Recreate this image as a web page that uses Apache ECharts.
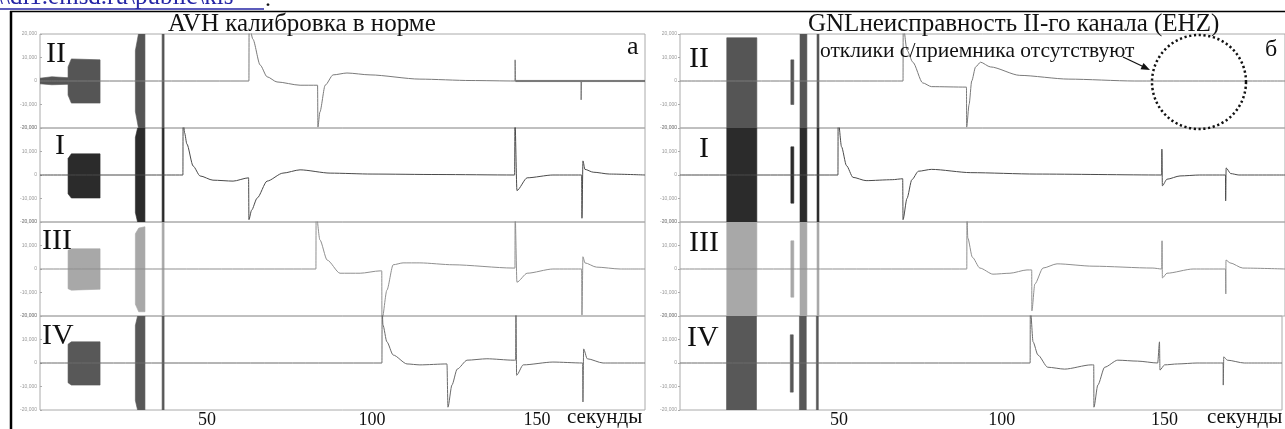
<!DOCTYPE html>
<html>
<head>
<meta charset="utf-8">
<script src="https://cdn.jsdelivr.net/npm/echarts@6/dist/echarts.min.js"></script>
<style>
html,body{margin:0;padding:0;background:#fff}
#main{width:1285px;height:429px}
</style>
</head>
<body>
<div id="main"></div>
<script>
/* ---- data: seconds / relative amplitude (1 = half a trace row) ---- */
var rowNames = ['II', 'I', 'III', 'IV'];
var timeTicks = [50, 100, 150];
var ampTicks = [-1, -0.5, 0, 0.5, 1];

/* панель а: AVH */
var traceA_II = [[-0.6,0],[8,0],[62.7,0],[62.75,1.2],[63.9,0.89],[66.1,0.34],[68.2,0.09],[71.2,-0.02],[78.2,-0.09],[83.5,-0.09],[83.6,-0.98],[84.2,-0.66],[85.8,-0.09],[88.2,0.13],[92.4,0.17],[99.4,0.13],[114.5,0.04],[130,0.01],[143.3,0],[143.35,0.45],[143.5,0],[163.3,0],[163.35,-0.4],[163.5,0],[182.7,0]];
var traceA_I = [[-0.6,0],[42.7,0],[42.75,1.2],[43.2,0.9],[43.9,0.66],[45.8,0.19],[47.9,-0.02],[51.8,-0.11],[57.9,-0.13],[62.6,-0.06],[62.7,-0.95],[63.5,-0.75],[65.2,-0.49],[68.2,-0.13],[73,0.04],[78.2,0.11],[87.3,0.04],[100,0.02],[120,0.01],[143.2,0],[143.3,1.2],[143.9,-0.33],[147,-0.06],[154.8,0],[163.5,0],[163.6,-0.92],[163.9,0.3],[164.5,0.12],[167,0.06],[172,0.02],[182.7,0]];
var traceA_III = [[-0.6,0],[83,0],[83.05,1.2],[84.2,0.62],[86.4,0.19],[90.3,-0.09],[96.4,-0.09],[102.4,-0.04],[102.95,-0.04],[103,-1.1],[104.5,-0.45],[106.4,0.09],[109.4,0.13],[114.5,0.13],[124.5,0.09],[142.7,0.02],[143.3,0.02],[143.35,1.2],[143.9,-0.28],[147,-0.09],[154.8,0],[163.5,0],[163.6,-0.98],[163.9,0.26],[164.5,0.13],[168,0.04],[175.2,0],[182.7,0]];
var traceA_IV = [[-0.6,0],[103,0],[103.05,1.2],[103.3,0.81],[104.5,0.45],[106.4,0.17],[110.6,-0.02],[114.5,-0.04],[122.7,-0.02],[123,-0.94],[124.2,-0.47],[125.8,-0.13],[128.8,0.06],[134.8,0.09],[142.7,0.06],[143.5,0.06],[143.6,1.2],[143.8,-0.26],[145.8,-0.04],[154.8,0.02],[163.8,0],[163.9,-0.83],[164.1,0.3],[165.2,0.09],[170,0],[182.7,0]];

/* envelopes of the dense oscillation parts: [t, upper, lower] */
var envA_II = [
    [[-0.6,0.06,-0.06],[3,0.09,-0.08],[7.9,0.07,-0.07]],
    [[7.9,0.3,-0.3],[8.9,0.47,-0.47],[17.6,0.45,-0.47]],
    [[28.3,0.65,-0.65],[29.5,1.1,-1.1],[31.2,1.1,-1.1]],
    [[36.4,1.1,-1.1],[37,1.1,-1.1]],
    [[143.5,0.012,-0.012],[182.7,0.012,-0.012]]
];
var envA_I = [
    [[7.9,0.35,-0.4],[8.9,0.45,-0.49],[17.6,0.45,-0.49]],
    [[28.3,0.8,-0.8],[29.3,1.1,-1.1],[31.2,1.1,-1.1]],
    [[36.4,1.1,-1.1],[37,1.1,-1.1]]
];
var envA_III = [
    [[7.9,0.4,-0.42],[8.9,0.43,-0.45],[17.6,0.43,-0.43]],
    [[28.3,0.75,-0.75],[29.3,0.87,-0.91],[31.2,0.9,-0.91]],
    [[36.4,1,-1],[37,1,-1]]
];
var envA_IV = [
    [[7.9,0.4,-0.42],[8.9,0.45,-0.47],[17.6,0.45,-0.47]],
    [[28.3,0.8,-0.8],[29.3,1.1,-1.1],[31.2,1.1,-1.1]],
    [[36.4,1.1,-1.1],[37,1.1,-1.1]]
];

/* панель б: GNL */
var traceB_II = [[1.1,0],[69.3,0],[69.35,1.2],[70.5,0.66],[72.3,0.4],[75.3,-0.04],[78,-0.12],[88.7,-0.13],[88.75,-0.98],[89.5,-0.5],[90.3,0],[91.5,0.3],[93,0.4],[96,0.3],[105,0.12],[120,0.04],[140,0],[186.1,0]];
var traceB_I = [[1.1,0],[49.4,0],[49.45,1.2],[50.5,0.6],[52,0.2],[54,-0.05],[58,-0.12],[66,-0.1],[69.2,-0.08],[69.3,-0.95],[70.5,-0.5],[72,-0.1],[74,0.08],[78,0.12],[90,0.05],[110,0.02],[148.4,0],[148.45,0.55],[148.6,-0.23],[150,-0.09],[154,-0.02],[160,0],[167.9,0],[167.95,-0.55],[168.1,0.15],[169.5,0.03],[172,0],[186.1,0]];
var traceB_III = [[1.1,0],[88.8,0],[88.85,1.2],[89.1,0.66],[90.5,0.25],[92.8,0.02],[96.8,-0.11],[102,-0.09],[107.2,-0.02],[108.65,-0.02],[108.7,-0.89],[109.6,-0.32],[112.1,0.02],[116.4,0.11],[127.4,0.06],[145.7,0.02],[148.4,0],[148.5,0.6],[148.6,-0.19],[150,-0.09],[158,0],[167.9,0],[168,-0.53],[168.05,0.19],[169.3,0.13],[173.2,0.02],[186.1,0]];
var traceB_IV = [[1.1,0],[108.7,0],[108.75,1.2],[109.6,0.45],[111.1,0.17],[114.1,-0.09],[119.3,-0.13],[127.4,-0.04],[128.25,-0.04],[128.3,-0.94],[129.5,-0.47],[131.6,-0.09],[135.6,0.06],[141.7,0.04],[147.9,0],[148.45,0.45],[148.6,-0.15],[150,-0.04],[154,-0.02],[160,0],[168,0],[168.05,-0.47],[168.2,0.13],[169.3,0.06],[174.5,0],[186.1,0]];

var envB_II = [
    [[15.4,0.92,-1.1],[24.6,0.92,-1.1]],
    [[35,0.45,-0.5],[35.9,0.45,-0.5]],
    [[37.8,1.1,-1.1],[39.9,1.1,-1.1]],
    [[43,1.1,-1.1],[43.6,1.1,-1.1]]
];
var envB_I = [
    [[15.4,1.1,-1.1],[24.6,1.1,-1.1]],
    [[35,0.6,-0.6],[35.9,0.6,-0.6]],
    [[37.8,1.1,-1.1],[39.9,1.1,-1.1]],
    [[43,1.1,-1.1],[43.6,1.1,-1.1]]
];
var envB_III = [
    [[15.4,1.1,-1.1],[24.6,1.1,-1.1]],
    [[35,0.6,-0.6],[35.9,0.6,-0.6]],
    [[37.8,1.1,-1.1],[39.9,1.1,-1.1]],
    [[43,1.1,-1.1],[43.6,1.1,-1.1]]
];
var envB_IV = [
    [[15.4,1.1,-1.1],[24.6,1.1,-1.1]],
    [[35,0.6,-0.62],[35.9,0.6,-0.62]],
    [[37.8,1.1,-1.1],[39.9,1.1,-1.1]],
    [[43,1.1,-1.1],[43.6,1.1,-1.1]]
];

/* ---- layout & style ---- */
var SERIF = '"Liberation Serif", "DejaVu Serif", serif';
var rowTops = [34, 128, 222, 316], rowH = 94, panelW = 605;
var lineColors = ['#7a7a7a', '#4a4a4a', '#8f8f8f', '#6a6a6a'];
var envColors = ['#555', '#2b2b2b', '#a8a8a8', '#585858'];

var panels = [
    {left: 40, min: -0.6, max: 182.7, traces: [traceA_II, traceA_I, traceA_III, traceA_IV], envs: [envA_II, envA_I, envA_III, envA_IV]},
    {left: 680, min: 1.1, max: 186.1, traces: [traceB_II, traceB_I, traceB_III, traceB_IV], envs: [envB_II, envB_I, envB_III, envB_IV]}
];

function ampLabel(v) {
    if (v === 0) return '0';
    var n = Math.round(v * 20000);
    return (n < 0 ? '-' : '') + String(Math.abs(n)).replace(/\B(?=(\d{3})+(?!\d))/g, ',');
}

function envSeries(g, list, color) {
    return {
        type: 'custom',
        xAxisIndex: g,
        yAxisIndex: g,
        clip: true,
        silent: true,
        z: 2,
        encode: {x: 0, y: 1},
        data: list.map(function (e) { return [e[0][0], 0]; }),
        renderItem: function (params, api) {
            var pts = list[params.dataIndex];
            var up = pts.map(function (p) { return api.coord([p[0], p[1]]); });
            var lo = pts.slice().reverse().map(function (p) { return api.coord([p[0], p[2]]); });
            return {
                type: 'polygon',
                shape: {points: up.concat(lo)},
                style: {fill: color, stroke: color, lineWidth: 0.6}
            };
        }
    };
}

var grids = [], xAxes = [], yAxes = [], series = [];
panels.forEach(function (p, pi) {
    for (var r = 0; r < 4; r++) {
        var g = pi * 4 + r;
        grids.push({left: p.left, top: rowTops[r], width: panelW, height: rowH,
            show: true, borderColor: '#aaa', borderWidth: 1, backgroundColor: 'transparent'});
        xAxes.push({
            gridIndex: g, type: 'value', min: p.min, max: p.max, splitNumber: 4,
            axisLine: {show: false}, axisTick: {show: false}, splitLine: {show: false},
            axisLabel: {
                show: r === 3, margin: 1, fontFamily: SERIF, fontSize: 18, color: '#111',
                formatter: function (v) { return timeTicks.indexOf(v) >= 0 ? String(v) : ''; }
            }
        });
        yAxes.push({
            gridIndex: g, type: 'value', min: -1, max: 1, interval: 0.5,
            axisLine: {show: false}, splitLine: {show: false},
            axisTick: {show: true, length: 2, lineStyle: {color: '#aaa'}},
            axisLabel: {fontSize: 5, color: '#999', margin: 3, formatter: ampLabel}
        });
        series.push(envSeries(g, p.envs[r], envColors[r]));
        series.push({
            type: 'line', xAxisIndex: g, yAxisIndex: g, data: p.traces[r],
            symbol: 'none', clip: true, silent: true, z: 3,
            smooth: 0.25, smoothMonotone: 'x',
            lineStyle: {color: lineColors[r], width: 1}
        });
    }
});

function txt(x, y, s, size, opts) {
    opts = opts || {};
    return {
        type: 'text', x: x, y: y, z: 10, silent: true,
        style: {
            text: s, fill: opts.fill || '#111',
            fontSize: size, fontFamily: SERIF,
            align: opts.align || 'left', textAlign: opts.align || 'left',
            verticalAlign: 'middle', textVerticalAlign: 'middle'
        }
    };
}

var rowLabelPos = [
    [[46, 54], [55, 146], [42, 241], [42, 336]],
    [[689, 59], [699, 149], [689, 243], [687, 338]]
];

var graphics = [
    {type: 'text', x: -4, y: -15, silent: true,
        style: {text: '\\\\di1.emsd.ru\\public\\kis', fill: '#2626a6', fontSize: 25, fontFamily: SERIF,
            align: 'left', textAlign: 'left', verticalAlign: 'top', textVerticalAlign: 'top'}},
    {type: 'line', silent: true, shape: {x1: 0, y1: 9, x2: 264, y2: 9}, style: {stroke: '#2626a6', lineWidth: 1.5}},
    txt(265, 0, '.', 24),
    {type: 'line', silent: true, shape: {x1: 10, y1: 11.5, x2: 1285, y2: 11.5}, style: {stroke: '#000', lineWidth: 1.5}},
    {type: 'line', silent: true, shape: {x1: 11, y1: 11, x2: 11, y2: 429}, style: {stroke: '#000', lineWidth: 2.5}},
    txt(168, 24, 'AVH калибровка в норме', 25),
    txt(808, 24, 'GNLнеисправность II-го канала (EHZ)', 25),
    txt(627, 47, 'а', 26),
    txt(1265, 50, 'б', 24),
    txt(820, 51, 'отклики с/приемника отсутствуют', 21.5),
    {type: 'polyline', silent: true, z: 10, shape: {points: [[1123, 57], [1143, 66.5]]}, style: {stroke: '#111', lineWidth: 1.3}},
    {type: 'polygon', silent: true, z: 10, shape: {points: [[1150, 70], [1140.5, 69.2], [1143.5, 62.9]]}, style: {fill: '#111'}},
    {type: 'circle', silent: true, z: 10, shape: {cx: 1199, cy: 82, r: 47},
        style: {fill: 'none', stroke: '#111', lineWidth: 2.5, lineDash: [2.2, 2.6]}},
    txt(567, 417, 'секунды', 21),
    txt(1207, 417, 'секунды', 21)
];
rowLabelPos.forEach(function (pos) {
    pos.forEach(function (xy, r) {
        graphics.push(txt(xy[0], xy[1], rowNames[r], 30));
    });
});

var myChart = echarts.init(document.getElementById('main'));
myChart.setOption({
    animation: false,
    backgroundColor: '#fff',
    grid: grids,
    xAxis: xAxes,
    yAxis: yAxes,
    series: series,
    graphic: graphics
});
</script>
</body>
</html>
